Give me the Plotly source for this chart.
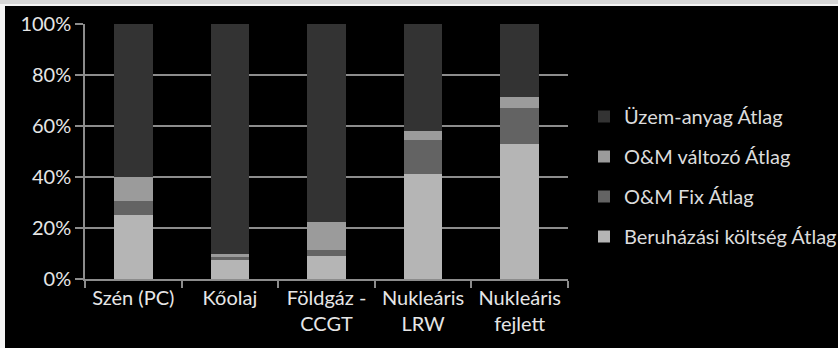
import plotly.graph_objects as go

# Cost structure of electricity generation by technology (share of total, %)
categories = ["Szén (PC)", "Kőolaj", "Földgáz -<br>CCGT", "Nukleáris<br>LRW", "Nukleáris<br>fejlett"]
beruhazasi = [25.0, 7.3, 9.2, 41.1, 52.9]
om_fix = [5.4, 1.3, 2.1, 13.4, 14.0]
om_valtozo = [9.6, 1.4, 11.0, 3.4, 4.3]
uzemanyag = [60.0, 90.0, 77.7, 42.1, 28.8]

series = [
    ("Beruházási költség Átlag", beruhazasi, "#b5b5b5"),
    ("O&M Fix Átlag", om_fix, "#636363"),
    ("O&M változó Átlag", om_valtozo, "#9b9b9b"),
    ("Üzem-anyag Átlag", uzemanyag, "#333333"),
]

W, H = 838, 348
ML, MR, MT, MB = 85, 270, 24, 69
PW, PH = W - ML - MR, H - MT - MB

fig = go.Figure()
for i, (name, vals, color) in enumerate(series):
    fig.add_trace(go.Bar(
        x=categories, y=vals, name=name, legendgroup=f"g{i}",
        legendrank=len(series) - i,
        marker=dict(color=color, line=dict(width=0)),
    ))


def px_x(p):
    return (p - ML) / PW


def px_y(p):
    return (H - MB - p) / PH


txt = "#e6e6e6"
grid = "#8c8c8c"

# frame around the picture: grey strip on top, thin white edges
shapes = [
    dict(type="rect", xref="paper", yref="paper", x0=px_x(0), x1=px_x(W), y0=px_y(0), y1=px_y(4),
         fillcolor="#d6d6d6", line=dict(width=0), layer="above"),
    dict(type="rect", xref="paper", yref="paper", x0=px_x(0), x1=px_x(W), y0=px_y(4), y1=px_y(6),
         fillcolor="#f4f4f4", line=dict(width=0), layer="above"),
    dict(type="rect", xref="paper", yref="paper", x0=px_x(0), x1=px_x(5), y0=px_y(4), y1=px_y(H),
         fillcolor="#f4f4f4", line=dict(width=0), layer="above"),
]

fig.update_layout(
    width=W, height=H,
    margin=dict(l=ML, r=MR, t=MT, b=MB, pad=0, autoexpand=False),
    barmode="stack", bargap=0.6,
    paper_bgcolor="#000000", plot_bgcolor="#000000",
    font=dict(family="Lato, Carlito, sans-serif", color=txt, size=19),
    showlegend=True,
    legend=dict(
        x=px_x(584), y=px_y(97), xanchor="left", yanchor="top",
        traceorder="grouped", tracegroupgap=11,
        font=dict(size=20, color="#dcdcdc"), bgcolor="rgba(0,0,0,0)",
        itemwidth=30,
    ),
    xaxis=dict(
        showline=True, linecolor=grid, linewidth=1.5,
        ticks="outside", tickson="boundaries", ticklen=7, tickcolor=grid, tickwidth=1.5,
        tickfont=dict(size=20, color=txt), showgrid=False,
        tickangle=0, automargin=False,
    ),
    yaxis=dict(
        range=[0, 100], dtick=20, ticksuffix="%",
        showline=True, linecolor=grid, linewidth=1.5,
        ticks="outside", ticklen=8, tickcolor=grid, tickwidth=1.5,
        showgrid=True, gridcolor=grid, gridwidth=1.5,
        tickfont=dict(size=20, color=txt), zeroline=False, automargin=False,
    ),
    shapes=shapes,
)

fig.write_html("out.html", post_script="document.body.style.margin='0';")
